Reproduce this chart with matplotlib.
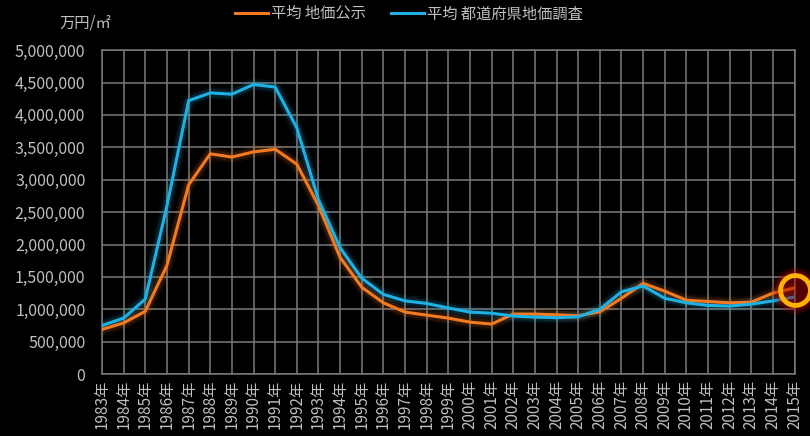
import matplotlib
matplotlib.use('Agg')
import matplotlib.pyplot as plt
from matplotlib.ticker import FuncFormatter

plt.rcParams['font.family'] = ['Noto Sans CJK JP', 'DejaVu Sans']

# 年と平均価格
years = list(range(1983, 2016))
year_labels = [f'{y}年' for y in years]

koji = [690000, 790000, 970000, 1680000, 2920000, 3400000, 3350000, 3430000, 3470000, 3240000,
        2600000, 1800000, 1340000, 1100000, 957000, 910000, 864000, 802000, 772000, 926000,
        926000, 915000, 900000, 962000, 1170000, 1400000, 1280000, 1140000, 1120000, 1100000,
        1110000, 1250000, 1330000]

chosa = [750000, 864000, 1160000, 2600000, 4220000, 4340000, 4320000, 4470000, 4430000, 3800000,
         2690000, 1950000, 1480000, 1230000, 1130000, 1090000, 1020000, 957000, 940000, 895000,
         880000, 870000, 885000, 1000000, 1270000, 1360000, 1170000, 1100000, 1060000, 1050000,
         1080000, 1130000, 1190000]

ORANGE = '#F47A20'
BLUE = '#1DB2E6'
GRID = '#7a7a7a'
TEXT = '#bfbfbf'
FS = 11

fig = plt.figure(figsize=(8.1, 4.36), dpi=100, facecolor='black')
ax = fig.add_axes([0.126, 0.142, 0.855, 0.743], facecolor='black')

x = list(range(len(years)))

# ぼかし効果
for w, a in [(9, 0.07), (6, 0.13)]:
    ax.plot(x, koji, color=ORANGE, lw=w, alpha=a, solid_joinstyle='round', zorder=2)
    ax.plot(x, chosa, color=BLUE, lw=w, alpha=a, solid_joinstyle='round', zorder=2)

ax.plot(x, koji, color=ORANGE, lw=2.2, label='平均 地価公示', zorder=3)
ax.plot(x, chosa, color=BLUE, lw=2.2, label='平均 都道府県地価調査', zorder=3)

# 2015年の強調マーク
cx, cy = x[-1], 1300000
for s, a in [(34, 0.2), (29, 0.35)]:
    ax.plot(cx, cy, 'o', ms=s, color='#b00000', alpha=a, mec='none', clip_on=False, zorder=4)
ax.plot(cx, cy, 'o', ms=21.5, mfc='none', mec='#FFB300', mew=3.5, clip_on=False, zorder=5)

ax.set_xlim(0, len(years) - 1)
ax.set_ylim(0, 5000000)
ax.set_xticks(x)
ax.set_xticklabels(year_labels, rotation=90, fontsize=FS, color=TEXT)
ax.set_yticks(range(0, 5000001, 500000))
ax.yaxis.set_major_formatter(FuncFormatter(lambda v, p: f'{int(v):,}'))
ax.tick_params(axis='y', labelsize=11.5, colors=TEXT, length=0, pad=12)
ax.tick_params(axis='x', length=0, pad=4)

ax.grid(True, color=GRID, lw=1.1)
for sp in ax.spines.values():
    sp.set_color(GRID)
    sp.set_linewidth(1.1)
ax.set_axisbelow(True)

fig.text(0.073, 0.947, '万円/㎡', color=TEXT, fontsize=FS, ha='left', va='center')

leg = fig.legend(loc='center', bbox_to_anchor=(0.505, 0.968), ncol=2, frameon=False,
                 fontsize=FS, handlelength=2.2, handletextpad=0.2, columnspacing=1.6)
for t in leg.get_texts():
    t.set_color(TEXT)

fig.savefig('out.png', dpi=100, facecolor='black')
